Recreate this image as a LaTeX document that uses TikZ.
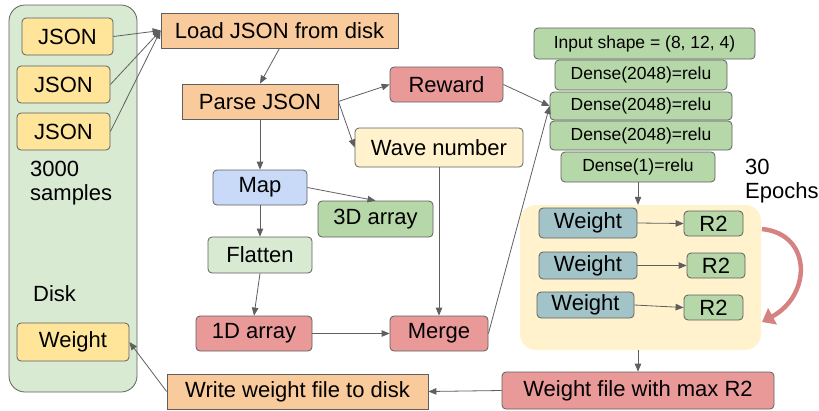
\documentclass[tikz,border=0pt]{standalone}
\usepackage{fontspec}
\setmainfont{Liberation Sans}
\usetikzlibrary{arrows.meta}
\definecolor{bordc}{RGB}{95,95,95}
\definecolor{orangef}{HTML}{F9CB9C}
\definecolor{yellowf}{HTML}{FFE599}
\definecolor{paleg}{HTML}{D9EAD3}
\definecolor{redf}{HTML}{EA9999}
\definecolor{creamf}{HTML}{FFF2CC}
\definecolor{bluef}{HTML}{C9DAF8}
\definecolor{greenf}{HTML}{B6D7A8}
\definecolor{tealf}{HTML}{A2C4C9}
\definecolor{curvec}{RGB}{214,130,130}
\tikzset{
  box/.style={draw=bordc, line width=0.8pt, inner sep=0pt, font=\fontsize{22}{24}\selectfont, text=black},
  rbox/.style={box, rounded corners=4pt},
  dbox/.style={rbox, fill=greenf, font=\fontsize{17.5}{20}\selectfont},
  conn/.style={draw=bordc, line width=0.8pt, -{Triangle[length=8pt,width=6.5pt]}},
  lbl/.style={inner sep=0pt, font=\fontsize{22}{24}\selectfont, align=left, anchor=west},
}
\begin{document}
\begin{tikzpicture}[x=1pt,y=-1pt]
\useasboundingbox (0,0) rectangle (819,410);
% panels
\draw[draw=bordc, line width=0.8pt, fill=paleg, rounded corners=16pt] (9,5) rectangle (137,392);
\node[fill=creamf, rounded corners=16pt, minimum width=241pt, minimum height=145pt, inner sep=0pt] (ypanel) at (640.5,277.5) {};
% disk contents
\node[rbox, fill=yellowf, minimum width=91pt, minimum height=37pt] (json1) at (67.5,36.5) {JSON};
\node[rbox, fill=yellowf, minimum width=93pt, minimum height=37pt] (json2) at (63.5,84.5) {JSON};
\node[rbox, fill=yellowf, minimum width=93pt, minimum height=37pt] (json3) at (63.5,131.5) {JSON};
\node[lbl] (samples) at (30,183) {3000\\samples};
\node[lbl] (disk) at (33,294) {Disk};
\node[rbox, fill=yellowf, minimum width=112pt, minimum height=38pt] (dweight) at (73,342) {Weight};
% pipeline
\node[box, fill=orangef, minimum width=237pt, minimum height=35pt] (load) at (279.5,30.5) {Load JSON from disk};
\node[box, fill=orangef, minimum width=156pt, minimum height=35pt] (parse) at (260,101.5) {Parse JSON};
\node[rbox, fill=redf, minimum width=113pt, minimum height=35pt] (reward) at (446.5,84.5) {Reward};
\node[rbox, fill=creamf, minimum width=168pt, minimum height=39pt] (wave) at (439,147.5) {Wave number};
\node[rbox, fill=bluef, minimum width=94pt, minimum height=35pt] (map) at (260,187.5) {Map};
\node[rbox, fill=greenf, minimum width=115pt, minimum height=36pt] (arr3d) at (375.5,219) {3D array};
\node[rbox, fill=paleg, minimum width=104pt, minimum height=36pt] (flatten) at (260,255) {Flatten};
\node[rbox, fill=redf, minimum width=116pt, minimum height=35pt] (arr1d) at (254,333.5) {1D array};
\node[rbox, fill=redf, minimum width=98pt, minimum height=35pt] (merge) at (439,333.5) {Merge};
\node[box, fill=orangef, minimum width=261pt, minimum height=35pt] (write) at (297.5,391.5) {Write weight file to disk};
\node[rbox, fill=redf, minimum width=272pt, minimum height=37pt] (wmax) at (638,390.5) {Weight file with max R2};
% network
\node[dbox, minimum width=221pt, minimum height=31pt] (input) at (644.5,43.5) {Input shape = (8, 12, 4)};
\node[dbox, minimum width=172pt, minimum height=30pt] (d1) at (641,75) {Dense(2048)=relu};
\node[dbox, minimum width=182pt, minimum height=28pt] (d2) at (641,106) {Dense(2048)=relu};
\node[dbox, minimum width=182pt, minimum height=29pt] (d3) at (641,135.5) {Dense(2048)=relu};
\node[dbox, minimum width=154pt, minimum height=30pt] (dout) at (638,167) {Dense(1)=relu};
\node[lbl] (epochs) at (745,181) {30\\Epochs};
% training
\node[rbox, fill=tealf, minimum width=98pt, minimum height=30pt] (w1) at (588,223) {Weight};
\node[rbox, fill=tealf, minimum width=98pt, minimum height=27pt] (w2) at (588,265.5) {Weight};
\node[rbox, fill=tealf, minimum width=97pt, minimum height=26pt] (w3) at (585.5,305) {Weight};
\node[rbox, fill=greenf, minimum width=59pt, minimum height=25pt] (r1) at (713.5,223.5) {R2};
\node[rbox, fill=greenf, minimum width=58pt, minimum height=25pt] (r2) at (716,265.5) {R2};
\node[rbox, fill=greenf, minimum width=59pt, minimum height=25pt] (r3) at (713.5,307.5) {R2};
\coordinate (cs) at (762,229);
\coordinate (ce) at (762,322);
% connectors
\draw[conn] (json1.east) -- (load.west);
\draw[conn] (json2.east) -- (load.west);
\draw[conn] (json3.east) -- (load.west);
\draw[conn] (load.south) -- (parse.north);
\draw[conn] (parse.east) -- (reward.west);
\draw[conn] (parse.east) -- (wave.west);
\draw[conn] (parse.south) -- (map.north);
\draw[conn] (map.east) -- (arr3d.north);
\draw[conn] (map.south) -- (flatten.north);
\draw[conn] (flatten.south) -- (arr1d.north);
\draw[conn] (arr1d.east) -- (merge.west);
\draw[conn] (wave.south) -- (merge.north);
\draw[conn] (reward.east) -- (d2.west);
\draw[conn] (merge.east) -- (d2.west);
\draw[conn] (dout.south) -- (dout.south |- ypanel.north);
\draw[conn] (w1.east) -- (r1.west);
\draw[conn] (w2.east) -- (r2.west);
\draw[conn] (w3.east) -- (r3.west);
\draw[conn] (wmax.north |- ypanel.south) -- (wmax.north);
\draw[conn] (wmax.west) -- (write.east);
\draw[conn] (write.west) -- (dweight.east);
\draw[draw=curvec, line width=4.5pt, -{Triangle[length=12pt,width=18pt]}] (cs) .. controls (812,234) and (812,295) .. (ce);
\end{tikzpicture}
\end{document}
